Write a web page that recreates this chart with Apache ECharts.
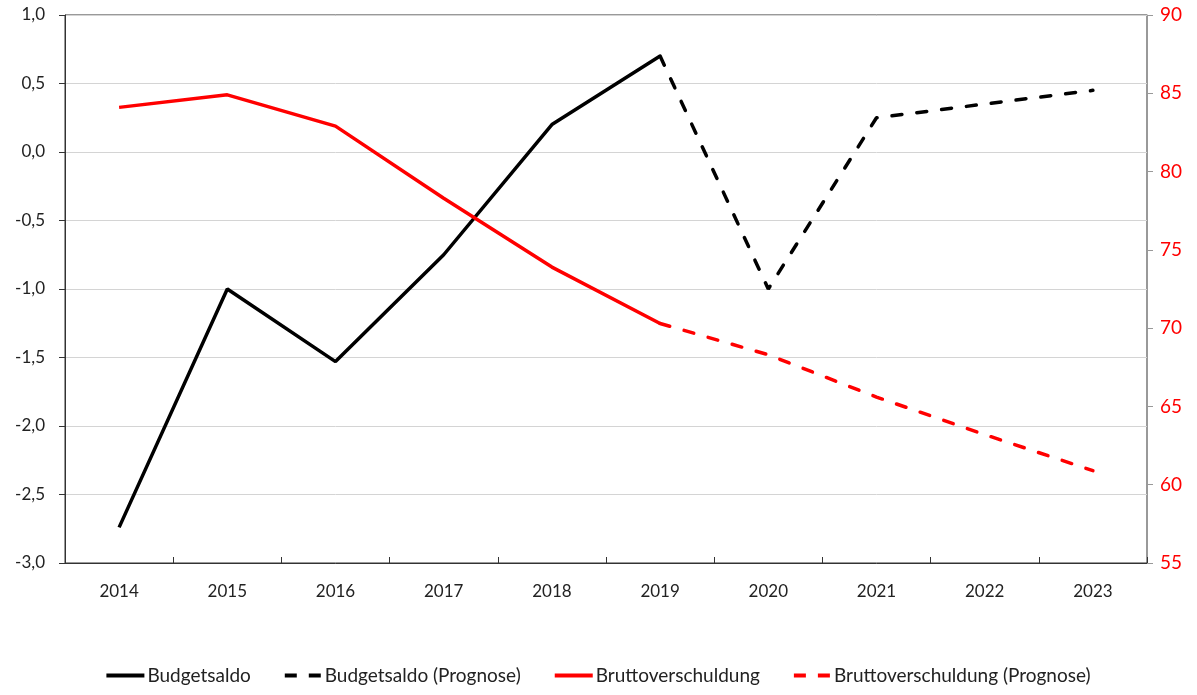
<!DOCTYPE html>
<html><head><meta charset="utf-8">
<script src="https://cdn.jsdelivr.net/npm/echarts@6/dist/echarts.min.js"></script>
<style>html,body{margin:0;padding:0;background:#fff}#c{width:1197px;height:695px}</style>
</head><body><div id="c"></div>
<script>
const years = ['2014','2015','2016','2017','2018','2019','2020','2021','2022','2023'];
const budget = [-2.74, -1.0, -1.53, -0.75, 0.2, 0.7, null, null, null, null];
const budgetForecast = [null, null, null, null, null, 0.7, -1.0, 0.25, 0.35, 0.45];
const debt = [84.1, 84.9, 82.9, 78.3, 73.9, 70.3, null, null, null, null];
const debtForecast = [null, null, null, null, null, 70.3, 68.3, 65.6, 63.2, 60.9];

const font = 'Lato, "Open Sans", sans-serif';
const solidIcon = 'path://M0,0H38V4H0Z';
const dashIcon = 'path://M1,0H13V4H1Z M25,0H37V4H25Z';
const chart = echarts.init(document.getElementById('c'));
chart.setOption({
  animation: false,
  textStyle: {fontFamily: font},
  grid: {left: 65, right: 50, top: 15, bottom: 132, show: true, borderColor: '#333', borderWidth: 1, containLabel: false},
  legend: {
    bottom: 5, left: 'center', itemWidth: 38, itemHeight: 4, itemGap: 34,
    textStyle: {fontFamily: font, fontSize: 19, color: '#222', padding: [0, 0, 0, -2]},
    data: [
      {name: 'Budgetsaldo', icon: solidIcon},
      {name: 'Budgetsaldo (Prognose)', icon: dashIcon},
      {name: 'Bruttoverschuldung', icon: solidIcon},
      {name: 'Bruttoverschuldung (Prognose)', icon: dashIcon}
    ]
  },
  xAxis: {
    type: 'category', data: years, boundaryGap: true,
    axisLine: {onZero: false, lineStyle: {color: '#333'}},
    axisTick: {show: true, inside: true, length: 6, lineStyle: {color: '#333'}},
    axisLabel: {color: '#222', fontSize: 17, margin: 20, fontFamily: font}
  },
  yAxis: [
    {type: 'value', min: -3, max: 1, interval: 0.5,
     axisLine: {show: true, lineStyle: {color: '#333'}},
     axisTick: {show: true, length: 6, lineStyle: {color: '#333'}},
     splitLine: {lineStyle: {color: '#d4d4d4'}},
     axisLabel: {color: '#222', fontSize: 17, margin: 20, fontFamily: font,
       formatter: v => v.toFixed(1).replace('.', ',')}},
    {type: 'value', min: 55, max: 90, interval: 5, position: 'right',
     axisLine: {show: true, lineStyle: {color: '#999'}},
     axisTick: {show: true, length: 6, lineStyle: {color: '#999'}},
     splitLine: {show: false},
     axisLabel: {color: '#ff0000', fontSize: 19, margin: 13, fontFamily: font}}
  ],
  series: [
    {name: 'Budgetsaldo', type: 'line', yAxisIndex: 0, data: budget, symbol: 'none',
     lineStyle: {color: '#000', width: 3.5}, itemStyle: {color: '#000'}},
    {name: 'Budgetsaldo (Prognose)', type: 'line', yAxisIndex: 0, data: budgetForecast, symbol: 'none',
     lineStyle: {color: '#000', width: 3.5, type: [10, 15], cap: 'round'}, itemStyle: {color: '#000'}},
    {name: 'Bruttoverschuldung', type: 'line', yAxisIndex: 1, data: debt, symbol: 'none',
     lineStyle: {color: '#ff0000', width: 3.5}, itemStyle: {color: '#ff0000'}},
    {name: 'Bruttoverschuldung (Prognose)', type: 'line', yAxisIndex: 1, data: debtForecast, symbol: 'none',
     lineStyle: {color: '#ff0000', width: 3.5, type: [10, 15], cap: 'round'}, itemStyle: {color: '#ff0000'}}
  ]
});
</script></body></html>
